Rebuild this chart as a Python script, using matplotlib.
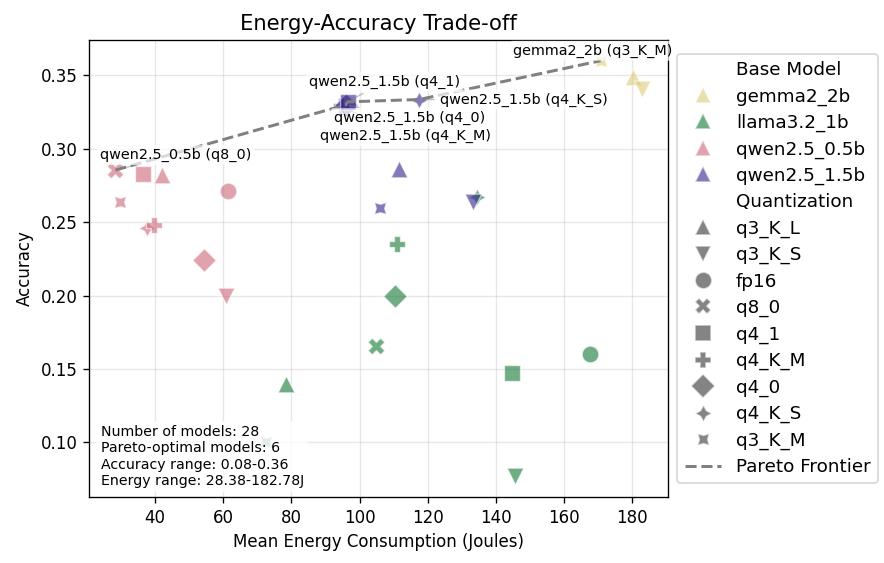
import matplotlib
matplotlib.use('Agg')
import matplotlib.pyplot as plt
from matplotlib.lines import Line2D
import numpy as np

# data
base_models = ['gemma2_2b', 'llama3.2_1b', 'qwen2.5_0.5b', 'qwen2.5_1.5b']
quant_levels = ['q3_K_L', 'q3_K_S', 'fp16', 'q8_0', 'q4_1', 'q4_K_M', 'q4_0', 'q4_K_S', 'q3_K_M']

model = (['gemma2_2b'] * 3 + ['llama3.2_1b'] * 9 +
         ['qwen2.5_0.5b'] * 9 + ['qwen2.5_1.5b'] * 7)
quant = ['q3_K_M', 'q3_K_L', 'q3_K_S',
         'q4_K_S', 'q4_K_M', 'q4_0', 'q8_0', 'q4_1', 'fp16', 'q3_K_L', 'q3_K_S', 'q3_K_M',
         'q8_0', 'q4_1', 'q3_K_L', 'fp16', 'q4_K_S', 'q4_K_M', 'q4_0', 'q3_K_S', 'q3_K_M',
         'q3_K_L', 'q3_K_M', 'q3_K_S', 'q4_K_M', 'q4_0', 'q4_1', 'q4_K_S']
energy = [170.7, 180.3, 182.78,
          134.6, 111.0, 110.4, 104.9, 144.6, 167.7, 78.3, 145.5, 72.7,
          28.38, 36.5, 42.2, 61.5, 37.7, 39.6, 54.5, 60.8, 29.7,
          111.7, 105.9, 133.2, 94.5, 96.0, 96.5, 117.5]
accuracy = [0.360, 0.349, 0.341,
            0.267, 0.235, 0.200, 0.166, 0.147, 0.160, 0.140, 0.077, 0.100,
            0.2855, 0.283, 0.2825, 0.271, 0.246, 0.248, 0.224, 0.200, 0.264,
            0.286, 0.260, 0.264, 0.329, 0.330, 0.332, 0.3336]

palette = {'gemma2_2b': '#DDCC77', 'llama3.2_1b': '#117733',
           'qwen2.5_0.5b': '#CC6677', 'qwen2.5_1.5b': '#332288'}
markers = {'q3_K_L': '^', 'q3_K_S': 'v', 'fp16': 'o', 'q8_0': 'X', 'q4_1': 's',
           'q4_K_M': 'P', 'q4_0': 'D', 'q4_K_S': (4, 1, 0), 'q3_K_M': (4, 1, 45)}

# text offsets (points) for the pareto labels
label_offsets = {
    'qwen2.5_0.5b (q8_0)': (36, 9),
    'qwen2.5_1.5b (q4_K_M)': (39, -18),
    'qwen2.5_1.5b (q4_0)': (38, -8),
    'qwen2.5_1.5b (q4_1)': (22, 12),
    'qwen2.5_1.5b (q4_K_S)': (63, 0),
    'gemma2_2b (q3_K_M)': (-5, 6),
}

energy = np.array(energy)
accuracy = np.array(accuracy)

# pareto frontier: lowest energy for rising accuracy
order = np.argsort(energy)
pareto = []
best = -1
for i in order:
    if accuracy[i] > best:
        pareto.append(i)
        best = accuracy[i]

fig, ax = plt.subplots(figsize=(884 / 120, 563 / 120), dpi=120)
fig.subplots_adjust(left=0.1007, right=0.7557, top=0.929, bottom=0.1172)

for m, q, x, y in zip(model, quant, energy, accuracy):
    ax.scatter(x, y, s=100, color=palette[m], marker=markers[q], alpha=0.6,
               edgecolors='white', linewidths=0.8, zorder=2)

ax.plot(energy[pareto], accuracy[pareto], '--', color='gray', lw=1.8, zorder=3)

for i in pareto:
    lab = f'{model[i]} ({quant[i]})'
    ax.annotate(lab, (energy[i], accuracy[i]), xytext=label_offsets[lab],
                textcoords='offset points', ha='center', va='center', fontsize=8.6,
                bbox=dict(boxstyle='round,pad=0.2', fc='white', ec='none', alpha=0.7),
                arrowprops=dict(arrowstyle='-', color='gray', alpha=0.5, lw=0.8),
                zorder=4)

stats = (f'Number of models: {len(energy)}\n'
         f'Pareto-optimal models: {len(pareto)}\n'
         f'Accuracy range: {accuracy.min():.2f}-{accuracy.max():.2f}\n'
         f'Energy range: {energy.min():.2f}-{energy.max():.2f}J')
ax.text(0.02, 0.02, stats, transform=ax.transAxes, fontsize=8.5, va='bottom',
        bbox=dict(boxstyle='round,pad=0.3', fc='white', ec='none', alpha=0.8), zorder=5)

ax.grid(True, alpha=0.3)
ax.set_axisbelow(True)
ax.set_xlabel('Mean Energy Consumption (Joules)')
ax.set_ylabel('Accuracy')
ax.set_title('Energy-Accuracy Trade-off', fontsize=12.7)

handles = [Line2D([], [], linestyle='', label='Base Model')]
for m in base_models:
    handles.append(Line2D([], [], linestyle='', marker='^', markersize=10, color=palette[m],
                          alpha=0.6, markeredgecolor='white', label=m))
handles.append(Line2D([], [], linestyle='', label='Quantization'))
for q in quant_levels:
    handles.append(Line2D([], [], linestyle='', marker=markers[q], markersize=10, color='.2',
                          alpha=0.6, markeredgecolor='white', label=q))
handles.append(Line2D([], [], linestyle='--', color='gray', lw=1.8, label='Pareto Frontier'))
ax.legend(handles=handles, bbox_to_anchor=(1, 0.99), loc='upper left', fontsize=11,
          labelspacing=0.45)

fig.savefig('out.png', dpi=120)
